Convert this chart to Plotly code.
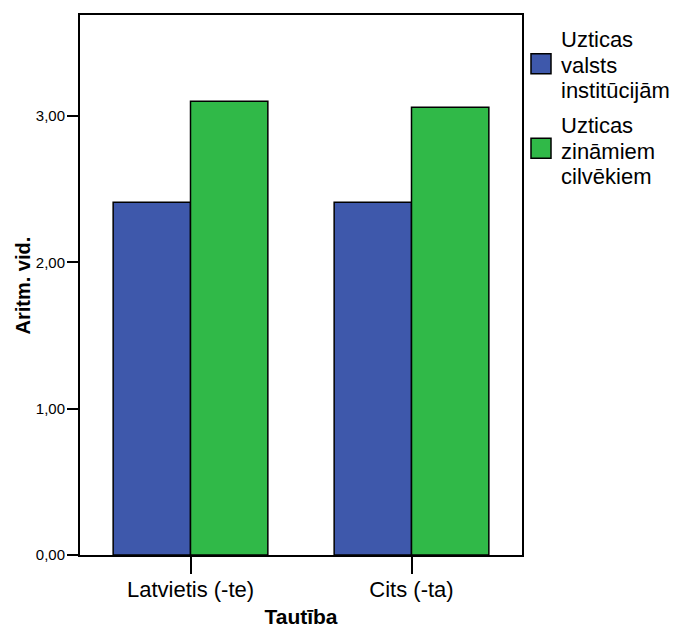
import plotly.graph_objects as go

categories = ["Latvietis (-te)", "Cits (-ta)"]
series_names = ["Uzticas valsts institūcijām", "Uzticas zināmiem cilvēkiem"]
legend_lines = [["Uzticas", "valsts", "institūcijām"], ["Uzticas", "zināmiem", "cilvēkiem"]]
values_inst = [2.41, 2.41]
values_known = [3.10, 3.06]
colors = ["#3e58ab", "#30b948"]
y_ticks = [0, 1, 2, 3]
x_title = "Tautība"
y_title = "Aritm. vid."

FONT = "Liberation Sans, Arial, sans-serif"

fig = go.Figure()
for name, vals, col in zip(series_names, [values_inst, values_known], colors):
    fig.add_trace(go.Bar(
        x=categories, y=vals, name=name,
        marker=dict(color=col, line=dict(color="black", width=1.5)),
        showlegend=False,
    ))

W, H = 675, 628
ml, mr, mt, mb = 80, 153, 15, 73
pw, ph = W - ml - mr, H - mt - mb

def px2paper(x, y):
    return (x - ml) / pw, (H - mb - y) / ph

# custom legend (paper coordinates)
legend_pos = [(63.7, [39, 64.7, 90]), (148.3, [124, 150, 175.7])]
for lines, col, (cy, line_ys) in zip(legend_lines, colors, legend_pos):
    x0, y0 = px2paper(531, cy - 10)
    x1, y1 = px2paper(551, cy + 10)
    fig.add_shape(type="rect", xref="paper", yref="paper",
                  x0=x0, x1=x1, y0=y1, y1=y0,
                  fillcolor=col, line=dict(color="black", width=1.5))
    for txt, ly in zip(lines, line_ys):
        tx, ty = px2paper(559, ly + 1)
        fig.add_annotation(xref="paper", yref="paper", x=tx, y=ty,
                           text=txt, showarrow=False, xanchor="left", yanchor="middle",
                           align="left", font=dict(family=FONT, size=22, color="black"))

# y axis title as rotated annotation
ytx, yty = px2paper(22.5, (15 + 555) / 2)
fig.add_annotation(xref="paper", yref="paper", x=ytx, y=yty, text=f"<b>{y_title}</b>",
                   textangle=-90, showarrow=False, xanchor="center", yanchor="middle",
                   font=dict(family=FONT, size=20, color="black"))

fig.update_layout(
    width=W, height=H,
    margin=dict(l=ml, r=mr, t=mt, b=mb, pad=0),
    paper_bgcolor="white", plot_bgcolor="white",
    barmode="group", bargap=0.3, bargroupgap=0,
    separators=",.",
    font=dict(family=FONT, color="black"),
)
fig.update_xaxes(
    showline=True, linecolor="black", linewidth=2, mirror=True,
    ticks="outside", ticklen=17, tickwidth=1.5, tickcolor="black",
    tickfont=dict(size=22, family=FONT), ticklabelstandoff=-3,
    title=dict(text=f"<b>{x_title}</b>", font=dict(size=21, family=FONT), standoff=14),
    range=[-0.5, 1.5], showgrid=False, automargin=False,
)
fig.update_yaxes(
    range=[0, 3.69], tickvals=y_ticks, tickformat=".2f",
    showline=True, linecolor="black", linewidth=2, mirror=True,
    ticks="outside", ticklen=11, tickwidth=1.5, tickcolor="black",
    tickfont=dict(size=15, family=FONT), ticklabelstandoff=-1,
    showgrid=False, zeroline=False, automargin=False,
)

fig.write_html("out.html", config={"displayModeBar": False},
               post_script="document.body.style.margin='0px';")
